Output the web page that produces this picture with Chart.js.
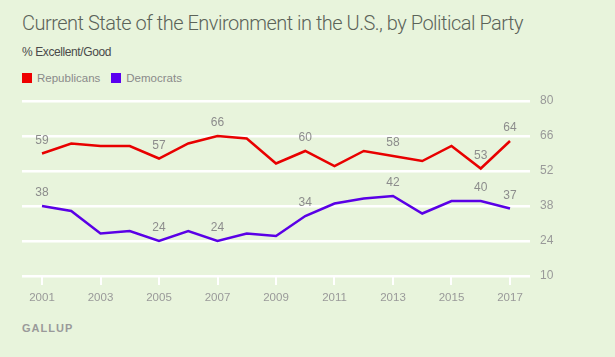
<!DOCTYPE html>
<html>
<head>
<meta charset="utf-8">
<script src="https://cdn.jsdelivr.net/npm/chart.js@4/dist/chart.umd.min.js"></script>
<style>
  html, body { margin: 0; padding: 0; background: #e8f4dc; }
  #wrap { position: relative; width: 615px; height: 357px; background: #e8f4dc; overflow: hidden; font-family: "Liberation Sans", Arial, sans-serif; }
  #title { position: absolute; left: 22px; top: 11px; font-size: 20px; color: #5b6359; font-family: Roboto, "Liberation Sans", sans-serif; font-weight: 300; white-space: nowrap; letter-spacing: -0.5px; }
  #sub { position: absolute; left: 22px; top: 45px; font-size: 12px; color: #4a4a4a; white-space: nowrap; letter-spacing: -0.4px; }
  #legend { position: absolute; left: 22px; top: 72px; font-size: 11.5px; color: #8a8a8a; white-space: nowrap; }
  #legend span.sw { display: inline-block; width: 10px; height: 10px; vertical-align: -1px; margin-right: 5px; }
  #legend span.it { margin-right: 11px; }
  #gallup { position: absolute; left: 22px; top: 322px; font-size: 11px; color: #9a9a9a; letter-spacing: 1px; font-weight: bold; }
  canvas { position: absolute; left: 0; top: 0; }
</style>
</head>
<body>
<div id="wrap">
  <div id="title">Current State of the Environment in the U.S., by Political Party</div>
  <div id="sub">% Excellent/Good</div>
  <div id="legend"><span class="sw" style="background:#ee0000"></span><span class="it">Republicans</span><span class="sw" style="background:#5a00f0"></span><span class="it">Democrats</span></div>
  <div id="gallup">GALLUP</div>
  <canvas id="c" width="615" height="357"></canvas>
</div>
<script>
const years = [2001,2002,2003,2004,2005,2006,2007,2008,2009,2010,2011,2012,2013,2014,2015,2016,2017];
const republicans = [59,63,62,62,57,63,66,65,55,60,54,60,58,56,62,53,64];
const democrats   = [38,36,27,28,24,28,24,27,26,34,39,41,42,35,40,40,37];
const labeledYears = [2001,2005,2007,2010,2013,2016,2017];
const xTickYears = [2001,2003,2005,2007,2009,2011,2013,2015,2017];
const yTicks = [10,24,38,52,66,80];

const labelPlugin = {
  id: 'pointLabels',
  afterDatasetsDraw(chart) {
    const ctx = chart.ctx;
    ctx.save();
    ctx.font = '12px "Liberation Sans", Arial, sans-serif';
    ctx.fillStyle = '#8c8c8c';
    ctx.textAlign = 'center';
    ctx.textBaseline = 'middle';
    chart.data.datasets.forEach((ds, di) => {
      const meta = chart.getDatasetMeta(di);
      ds.data.forEach((pt, i) => {
        if (labeledYears.includes(pt.x)) {
          const el = meta.data[i];
          ctx.fillText(String(pt.y), el.x, el.y - 13);
        }
      });
    });
    ctx.restore();
  }
};

new Chart(document.getElementById('c'), {
  type: 'line',
  data: {
    datasets: [
      { label: 'Republicans', data: years.map((y,i)=>({x:y, y:republicans[i]})), borderColor: '#e80000', borderWidth: 2.5, pointRadius: 0, tension: 0 },
      { label: 'Democrats', data: years.map((y,i)=>({x:y, y:democrats[i]})), borderColor: '#5a00e6', borderWidth: 2.5, pointRadius: 0, tension: 0 }
    ]
  },
  options: {
    responsive: false,
    animation: false,
    layout: { padding: { left: 22, top: 101, right: 0, bottom: 0 } },
    plugins: { legend: { display: false }, tooltip: { enabled: false } },
    scales: {
      x: {
        type: 'linear',
        min: 2001 - 20/29.25,
        max: 2017 + 20/29.25,
        afterBuildTicks: s => { s.ticks = xTickYears.map(v => ({ value: v })); },
        afterFit: s => { s.height = 81; },
        border: { display: false },
        grid: { drawOnChartArea: false, drawTicks: true, tickLength: 9, color: '#ffffff', lineWidth: 2 },
        ticks: { color: '#999999', font: { size: 11.5, family: '"Liberation Sans", Arial, sans-serif' }, padding: 6, maxRotation: 0, autoSkip: false, callback: v => String(v) }
      },
      y: {
        position: 'right',
        min: 10,
        max: 80,
        afterBuildTicks: s => { s.ticks = yTicks.map(v => ({ value: v })); },
        afterFit: s => { s.width = 85; },
        border: { display: false },
        grid: { color: '#ffffff', lineWidth: 2.5, drawTicks: false },
        ticks: { color: '#999999', font: { size: 12, family: '"Liberation Sans", Arial, sans-serif' }, padding: 10, crossAlign: 'near' }
      }
    }
  },
  plugins: [labelPlugin]
});
</script>
</body>
</html>
